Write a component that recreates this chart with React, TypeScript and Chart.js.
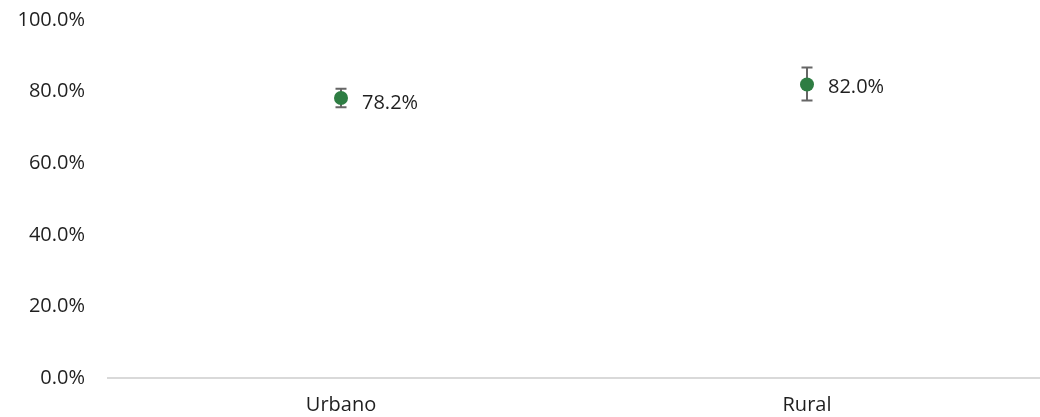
import React, { useEffect, useRef } from "react";
import { Chart, registerables } from "chart.js";

Chart.register(...registerables);

const categories = ["Urbano", "Rural"];
const values = [78.2, 82.0];
const lowerBounds = [75.6, 77.5];
const upperBounds = [80.8, 86.7];
const yTicks = [0, 20, 40, 60, 80, 100];

const FONT = "'Open Sans', sans-serif";
const FS = 20;

const errorBarPlugin = {
  id: "errorBars",
  afterDatasetsDraw(chart: any) {
    const ctx = chart.ctx;
    const meta = chart.getDatasetMeta(0);
    const y = chart.scales.y;
    ctx.save();
    ctx.strokeStyle = "#666666";
    ctx.lineWidth = 2;
    meta.data.forEach((pt: any, i: number) => {
      const x = pt.x;
      const yl = y.getPixelForValue(lowerBounds[i]);
      const yh = y.getPixelForValue(upperBounds[i]);
      ctx.beginPath();
      ctx.moveTo(x, yl);
      ctx.lineTo(x, yh);
      ctx.moveTo(x - 5.5, yl);
      ctx.lineTo(x + 5.5, yl);
      ctx.moveTo(x - 5.5, yh);
      ctx.lineTo(x + 5.5, yh);
      ctx.stroke();
    });
    meta.data.forEach((pt: any) => {
      ctx.beginPath();
      ctx.fillStyle = "#2e7d43";
      ctx.arc(pt.x, pt.y, 7, 0, Math.PI * 2);
      ctx.fill();
    });
    ctx.fillStyle = "#1f1f1f";
    ctx.font = `${FS}px ${FONT}`;
    ctx.textAlign = "left";
    ctx.textBaseline = "middle";
    meta.data.forEach((pt: any, i: number) => {
      const dy = i === 0 ? 5 : 3;
      ctx.fillText(values[i].toFixed(1) + "%", pt.x + 21, pt.y + dy);
    });
    ctx.restore();
  },
};

export default function App() {
  const ref = useRef<HTMLCanvasElement>(null);
  useEffect(() => {
    document.body.style.margin = "0";
    const chart = new Chart(ref.current!, {
      type: "line",
      data: {
        labels: categories,
        datasets: [
          {
            data: values,
            showLine: false,
            pointRadius: 0,
            pointHoverRadius: 0,
            backgroundColor: "#2e7d43",
            borderColor: "#2e7d43",
          },
        ],
      },
      options: {
        animation: false,
        responsive: false,
        maintainAspectRatio: false,
        layout: { padding: { top: 20, right: -6, left: 0, bottom: 0 } },
        plugins: { legend: { display: false }, tooltip: { enabled: false } },
        scales: {
          x: {
            offset: true,
            grid: { display: false, drawTicks: false },
            border: { display: true, color: "#d9d9d9", width: 2 },
            ticks: { font: { family: FONT, size: FS }, color: "#1f1f1f", padding: 15 },
            afterFit: (s: any) => {
              s.height = 39;
              s.paddingLeft = 0;
              s.paddingRight = 0;
            },
          },
          y: {
            min: 0,
            max: 100,
            afterBuildTicks: (s: any) => {
              s.ticks = yTicks.map((v) => ({ value: v }));
            },
            grid: { display: false, drawTicks: false },
            border: { display: false },
            ticks: {
              font: { family: FONT, size: FS },
              color: "#1f1f1f",
              padding: 23,
              callback: (v: any) => Number(v).toFixed(1) + "%",
            },
            afterFit: (s: any) => {
              s.width = 108;
              s.paddingTop = 0;
              s.paddingBottom = 0;
            },
          },
        },
      },
      plugins: [errorBarPlugin],
    });
    return () => chart.destroy();
  }, []);
  return <canvas ref={ref} width={1040} height={417} style={{ display: "block" }} />;
}
